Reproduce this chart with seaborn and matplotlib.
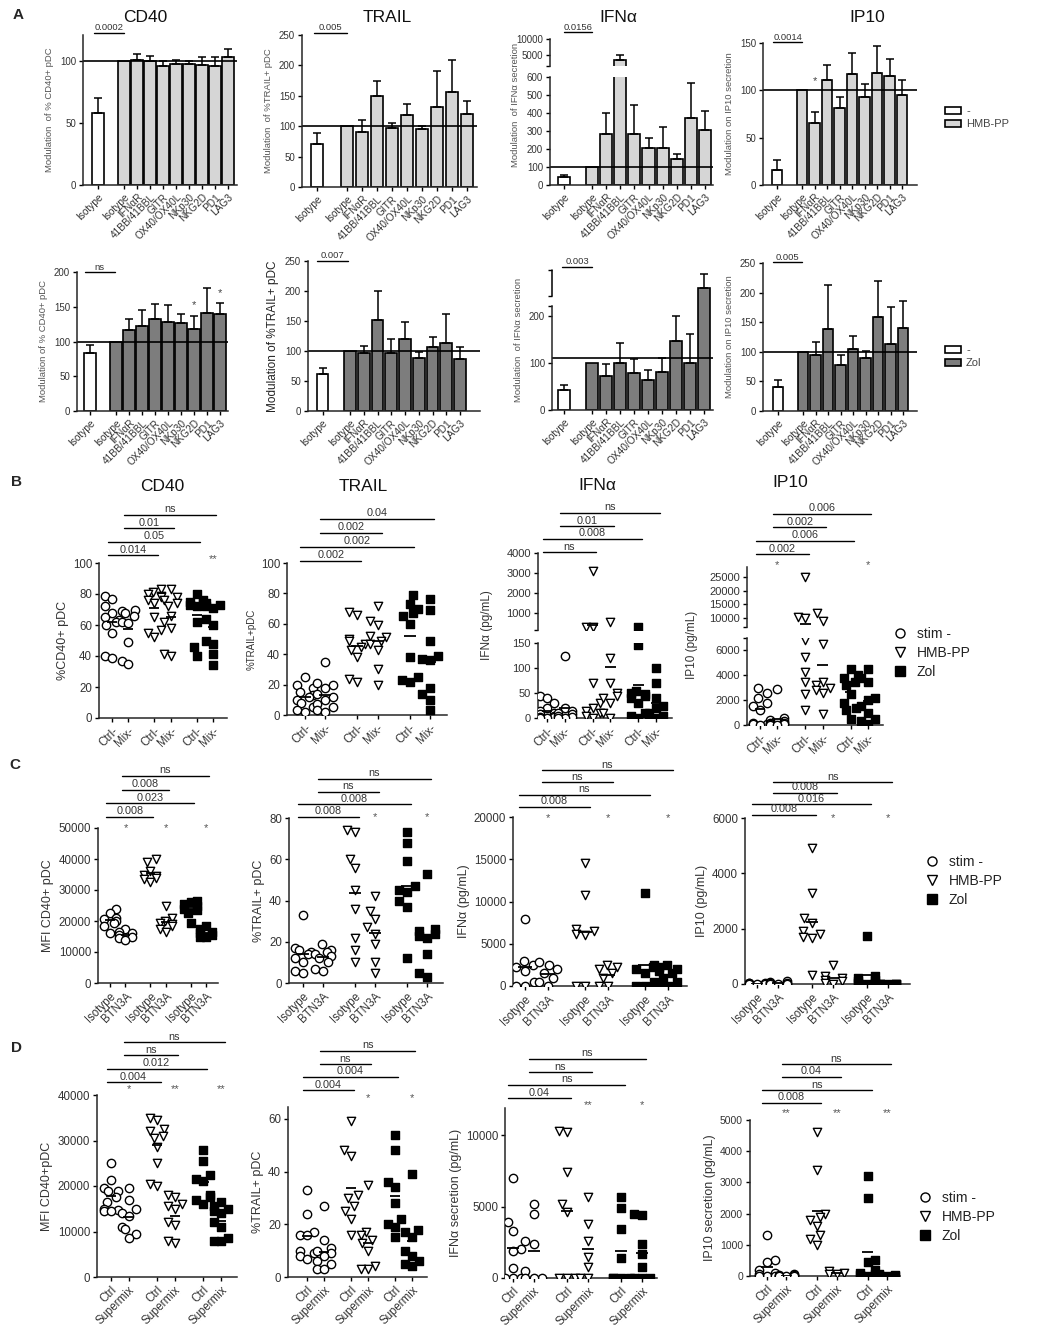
import warnings
import numpy as np
import pandas as pd
import matplotlib
matplotlib.use('Agg')
import matplotlib.pyplot as plt
import matplotlib.transforms as mtransforms
from matplotlib.lines import Line2D
from matplotlib.patches import Patch
import seaborn as sns

warnings.filterwarnings('ignore')

# ---------------- data ----------------
# A: blocking antibodies, modulation (%) relative to isotype, mean + SEM
bar_labels = ['Isotype', 'Isotype', 'IFNαR', '41BB/41BBL', 'GITR', 'OX40/OX40L',
              'NKp30', 'NKG2D', 'PD1', 'LAG3']
bar_pos = [0, 2, 3, 4, 5, 6, 7, 8, 9, 10]

hmb_cd40 = [58, 100, 101, 100, 96, 98, 98, 97, 96, 103]
hmb_cd40_err = [12, 0, 5, 4, 4, 3, 2, 6, 7, 7]
hmb_trail = [71, 100, 90, 150, 97, 118, 95, 132, 156, 120]
hmb_trail_err = [17, 0, 21, 25, 9, 19, 5, 58, 53, 21]
hmb_ifna = [45, 100, 285, 3450, 285, 205, 205, 145, 372, 305]
hmb_ifna_err = [8, 0, 115, 1550, 160, 55, 115, 27, 194, 106]
hmb_ip10 = [16, 100, 65, 111, 81, 117, 93, 118, 115, 95]
hmb_ip10_err = [10, 0, 12, 16, 12, 22, 14, 29, 18, 16]

zol_cd40 = [83, 100, 116, 122, 133, 128, 126, 118, 141, 139]
zol_cd40_err = [12, 0, 17, 24, 21, 24, 13, 19, 36, 17]
zol_trail = [62, 100, 96, 152, 96, 120, 88, 107, 113, 86]
zol_trail_err = [10, 0, 12, 48, 24, 28, 11, 16, 49, 20]
zol_ifna = [42, 100, 72, 100, 78, 63, 80, 146, 100, 260]
zol_ifna_err = [12, 0, 25, 43, 30, 22, 30, 54, 62, 30]
zol_ip10 = [40, 100, 95, 138, 77, 104, 90, 158, 113, 140]
zol_ip10_err = [13, 0, 22, 74, 18, 22, 12, 62, 62, 45]

# B-D: individual donors, [condition 1, condition 2] for stim -, HMB-PP, Zol
scat_pos = [0, 1, 2.6, 3.6, 5.2, 6.2]
stim_labels = ['stim -', 'HMB-PP', 'Zol']

b_cd40_nostim = [[79, 77, 72, 68, 65, 63, 62, 60, 55, 40, 39], [70, 69, 68, 66, 62, 61, 49, 37, 35]]
b_cd40_hmb = [[83, 81, 80, 79, 78, 76, 74, 65, 57, 55, 52], [83, 78, 76, 74, 72, 66, 62, 58, 41, 40]]
b_cd40_zol = [[80, 76, 75, 74, 73, 72, 62, 46, 40], [74, 73, 72, 71, 64, 60, 50, 48, 41, 34]]

b_trail_nostim = [[25, 20, 18, 15, 13, 12, 10, 8, 5, 3, 2], [35, 21, 20, 18, 14, 12, 10, 7, 5, 3, 2]]
b_trail_hmb = [[68, 66, 50, 49, 47, 45, 43, 38, 24, 22], [72, 62, 59, 52, 51, 49, 47, 43, 30, 20]]
b_trail_zol = [[79, 73, 70, 67, 65, 60, 38, 25, 23, 22], [76, 69, 49, 39, 37, 36, 18, 14, 10, 3]]

b_ifna_nostim = [[45, 40, 30, 20, 15, 10, 8, 5, 3, 2, 0, 0], [125, 20, 15, 10, 8, 5, 3, 0, 0]]
b_ifna_hmb = [[3100, 310, 290, 70, 30, 20, 15, 10, 5, 0], [550, 120, 70, 50, 45, 40, 30, 10, 0]]
b_ifna_zol = [[300, 146, 55, 50, 48, 45, 40, 30, 10, 5, 0], [100, 70, 40, 25, 20, 10, 5, 0, 0]]

b_ip10_nostim = [[3000, 2600, 2200, 1800, 1500, 1200, 200, 100, 50, 0], [2900, 600, 400, 300, 200, 150, 100, 50, 0, 0]]
b_ip10_hmb = [[25000, 10500, 10000, 6800, 5500, 4300, 3500, 2500, 1200], [12000, 9000, 6500, 3500, 3200, 3000, 2800, 2600, 900]]
b_ip10_zol = [[4500, 4000, 3800, 3500, 3200, 2500, 1800, 1400, 1200, 500], [4500, 3800, 3500, 2200, 2000, 1500, 1000, 500, 300, 100]]

c_cd40_nostim = [[24000, 22500, 21000, 20500, 20000, 19500, 18500, 16000], [17500, 16500, 16000, 15500, 15000, 14500, 14000]]
c_cd40_hmb = [[40000, 39000, 36000, 35000, 34500, 34000, 33500, 32500], [25000, 21000, 20000, 19500, 19000, 18500, 17500, 16500]]
c_cd40_zol = [[26500, 26000, 25500, 25000, 24000, 23500, 22500, 19500], [18500, 17500, 16500, 16000, 15500, 15000, 15000]]

c_trail_nostim = [[33, 17, 16, 15, 14, 12, 10, 6, 5], [19, 16, 15, 14, 13, 12, 10, 7, 6]]
c_trail_hmb = [[74, 73, 60, 56, 45, 36, 22, 16, 10], [42, 35, 31, 27, 24, 19, 10, 5]]
c_trail_zol = [[73, 68, 59, 47, 45, 44, 40, 37, 12], [53, 26, 25, 24, 23, 22, 14, 5, 3]]

c_ifna_nostim = [[7900, 3000, 2500, 2200, 1800, 500, 0, 0], [2800, 2500, 2000, 1500, 1000, 500, 0]]
c_ifna_hmb = [[14500, 10800, 6800, 6500, 6200, 6000, 0, 0], [2500, 2200, 2000, 1500, 1000, 0, 0]]
c_ifna_zol = [[11000, 2500, 2200, 2000, 1500, 500, 0, 0], [2500, 2200, 2000, 1800, 1500, 1000, 500, 0, 0]]

c_ip10_nostim = [[50, 30, 20, 10, 0, 0, 0, 0], [100, 60, 40, 20, 0, 0, 0]]
c_ip10_hmb = [[4900, 3300, 2400, 2200, 1900, 1800, 1700, 1650, 330], [700, 300, 200, 150, 100, 50, 0]]
c_ip10_zol = [[1750, 300, 200, 150, 100, 50, 30, 0], [0, 0, 0, 0, 0, 0, 0]]

d_cd40_nostim = [[25000, 21300, 19500, 19000, 18800, 17500, 16500, 15000, 14800, 14500, 14500], [19500, 17000, 15000, 14000, 13500, 11000, 10500, 9500, 8500]]
d_cd40_hmb = [[35000, 34500, 32500, 32000, 31000, 30500, 28500, 25000, 20500, 20000], [18000, 17500, 16000, 15500, 15000, 12000, 11500, 8000, 7500]]
d_cd40_zol = [[28000, 25500, 22500, 21500, 21000, 18000, 17500, 17000, 16000], [16500, 15500, 15000, 14500, 14000, 12000, 11000, 8500, 8000, 8000]]

d_trail_nostim = [[33, 24, 17, 16, 16, 10, 9, 8, 7], [27, 14, 11, 10, 9, 8, 6, 5, 3, 3]]
d_trail_hmb = [[59, 48, 46, 31, 30, 27, 25, 22, 16], [35, 17, 16, 14, 13, 10, 4, 3, 3]]
d_trail_zol = [[54, 48, 36, 34, 28, 22, 20, 19, 15], [39, 18, 17, 15, 10, 8, 6, 5, 4]]

d_ifna_nostim = [[7000, 3900, 3300, 2000, 1900, 700, 0, 0, 0], [5200, 4500, 2600, 2400, 500, 0, 0, 0]]
d_ifna_hmb = [[10300, 10200, 7400, 5200, 4600, 0, 0, 0], [5700, 3800, 2600, 1500, 800, 0, 0]]
d_ifna_zol = [[5700, 4900, 3400, 1400, 0, 0, 0, 0], [4500, 4400, 2400, 1700, 800, 0, 0, 0]]

d_ip10_nostim = [[1300, 500, 450, 200, 100, 50, 0, 0, 0], [50, 30, 20, 10, 0, 0, 0]]
d_ip10_hmb = [[4600, 3400, 2000, 1900, 1800, 1600, 1300, 1200, 1000], [150, 100, 80, 50]]
d_ip10_zol = [[3200, 2500, 500, 450, 200, 100, 50, 30, 0], [50, 30, 20, 10, 0, 0]]

# ---------------- style ----------------
sns.set_theme(style='ticks')
plt.rcParams['font.family'] = ['Liberation Sans', 'DejaVu Sans']
plt.rcParams['axes.linewidth'] = 1.1
plt.rcParams['xtick.major.width'] = 1.0
plt.rcParams['ytick.major.width'] = 1.0

W, H = 1038, 1339
fig = plt.figure(figsize=(W / 100, H / 100), dpi=100)

TXT = '#333333'
stim_styles = [('o', 'white'), ('v', 'white'), ('s', 'black')]


def make_ax(left, right, top, bottom, fs=7):
    ax = fig.add_axes([left / W, 1 - bottom / H, (right - left) / W, (bottom - top) / H])
    ax.set_facecolor('white')
    sns.despine(ax=ax)
    ax.tick_params(direction='out', length=3, color='black', labelcolor=TXT, pad=2, labelsize=fs)
    return ax


def figy(ypx):
    return 1 - ypx / H


def bar_xlim(S, iso2, lag3, R):
    u = (lag3 - iso2) / 8
    p0 = iso2 - 2 * u
    return (S - p0) / u, (R - p0) / u


def scat_xlim(S, c0, c5, R):
    u = (c5 - c0) / 6.2
    return (S - c0) / u, (R - c0) / u


def draw_bars(ax, vals, errs, fill):
    df = pd.DataFrame({'pos': bar_pos, 'val': vals, 'grp': ['iso'] + ['stim'] * 9})
    sns.barplot(data=df, x='pos', y='val', hue='grp', palette={'iso': 'white', 'stim': fill},
                native_scale=True, orient='x', dodge=False, width=0.85, errorbar=None,
                edgecolor='black', linewidth=1.2, legend=False, ax=ax)
    e = np.array(errs, dtype=float)
    keep = e > 0
    ax.errorbar(np.array(bar_pos)[keep], np.array(vals)[keep],
                yerr=[np.zeros(keep.sum()), e[keep]], fmt='none', ecolor='black',
                elinewidth=1.1, capsize=3, capthick=1.1, zorder=3)
    ax.set_xlabel('')
    ax.set_ylabel('')


def bar_xticks(ax, fs=7.3):
    ax.set_xticks(bar_pos)
    ax.set_xticklabels(bar_labels, rotation=45, ha='right', rotation_mode='anchor', fontsize=fs)


def sig_line(ax, x1, x2, ypx, label, fs=7):
    tr = mtransforms.blended_transform_factory(ax.transData, fig.transFigure)
    ax.plot([x1, x2], [figy(ypx), figy(ypx)], color='black', lw=1.0, transform=tr, clip_on=False)
    ax.text((x1 + x2) / 2, figy(ypx - 0.5), label, transform=tr, ha='center', va='bottom',
            fontsize=fs, color=TXT)


def sig_block(ax, labels, y0, step=13.5, fs=7.8):
    pairs = [(0, 2), (0, 4), (1, 3), (1, 5)]
    for i, (lab, (a, b)) in enumerate(zip(labels, pairs)):
        sig_line(ax, scat_pos[a] - 0.25, scat_pos[b] + 0.2, y0 - i * step, lab, fs)


def star_row(ax, stars, ypx, fs=8):
    tr = mtransforms.blended_transform_factory(ax.transData, fig.transFigure)
    for p, s in zip(scat_pos, stars):
        if s:
            ax.text(p, figy(ypx), s, transform=tr, ha='center', va='center', fontsize=fs,
                    color='#555555')


def draw_groups(parts, groups, size=6):
    # parts: list of (ax, lo, hi) value ranges shown on each axis
    for k, pair in enumerate(groups):
        mk, face = stim_styles[k]
        pos = np.repeat(scat_pos[2 * k:2 * k + 2], [len(pair[0]), len(pair[1])])
        df = pd.DataFrame({'pos': pos, 'val': np.concatenate(pair).astype(float)})
        for ax, lo, hi in parts:
            sub = df[(df.val > lo) & (df.val <= hi)]
            if len(sub):
                sns.swarmplot(data=sub, x='pos', y='val', native_scale=True, orient='x',
                              marker=mk, color=face, edgecolor='black', linewidth=1.0,
                              size=size, ax=ax)
        for j, v in enumerate(pair):
            m = np.mean(v)
            for ax, lo, hi in parts:
                if lo < m <= hi:
                    p = scat_pos[2 * k + j]
                    ax.hlines(m, p - 0.3, p + 0.3, color='black', lw=1.3, zorder=6)
    for ax, lo, hi in parts:
        ax.set_xlabel('')
        ax.set_ylabel('')


def scat_xticks(ax, labels, fs=8.3):
    ax.set_xticks(scat_pos)
    ax.set_xticklabels(labels, rotation=45, ha='right', rotation_mode='anchor', fontsize=fs)


def scatter_panel(box, xl, ylim, yticks, groups, ylabel, xlabels, sigs, sig_y, stars, star_y,
                  ylabel_fs=9, tick_fs=8.3, step=13.5):
    ax = make_ax(*box, fs=tick_fs)
    draw_groups([(ax, -1, 1e9)], groups)
    ax.set_xlim(*xl)
    ax.set_ylim(*ylim)
    ax.set_yticks(yticks)
    ax.set_yticklabels([str(t) for t in yticks])
    scat_xticks(ax, xlabels)
    ax.set_ylabel(ylabel, fontsize=ylabel_fs, color=TXT, labelpad=3)
    sig_block(ax, sigs, sig_y, step)
    star_row(ax, stars, star_y)
    return ax


def scatter_legend(x, y):
    handles = [Line2D([], [], marker=m, ls='none', mfc=f, mec='black', mew=1.0, ms=6.5)
               for m, f in stim_styles]
    fig.legend(handles, stim_labels, loc='upper left', bbox_to_anchor=(x / W, figy(y)),
               frameon=False, fontsize=10, handletextpad=0.7, labelspacing=0.35,
               borderaxespad=0, borderpad=0, handlelength=1.0, labelcolor='#222222')


def bar_legend(x, y, fill, label):
    handles = [Patch(facecolor='white', edgecolor='black', lw=1.2),
               Patch(facecolor=fill, edgecolor='black', lw=1.2)]
    fig.legend(handles, ['-', label], loc='upper left', bbox_to_anchor=(x / W, figy(y)),
               frameon=False, fontsize=8, handletextpad=0.5, labelspacing=0.3,
               borderaxespad=0, borderpad=0, handlelength=1.4, handleheight=0.6,
               labelcolor='#444444')


LIGHT = '#d6d6d6'
DARK = '#7d7d7d'

# ---------------- panel letters and titles ----------------
for letter, x, y in [('A', 18, 15), ('B', 17, 482), ('C', 15, 765), ('D', 17, 1048)]:
    fig.text(x / W, figy(y), letter, fontsize=11, fontweight='bold', ha='center', va='center')
for name, x in [('CD40', 145), ('TRAIL', 387), ('IFNα', 618), ('IP10', 867)]:
    fig.text(x / W, figy(17), name, fontsize=12.5, ha='center', va='center', color='#111111')
for name, x, y in [('CD40', 162, 487), ('TRAIL', 363, 487), ('IFNα', 597, 485), ('IP10', 790, 482)]:
    fig.text(x / W, figy(y), name, fontsize=12.5, ha='center', va='center', color='#111111')

# ---------------- A, HMB-PP row ----------------
ax = make_ax(83, 237, 35, 185, fs=7)
draw_bars(ax, hmb_cd40, hmb_cd40_err, LIGHT)
ax.set_xlim(*bar_xlim(83, 124, 228, 237))
ax.set_ylim(0, 121)
ax.set_yticks([0, 50, 100])
ax.axhline(100, color='black', lw=1.2)
bar_xticks(ax)
ax.set_ylabel('Modulation  of % CD40+ pDC', fontsize=6.8, color='#555555')
sig_line(ax, -0.3, 2.0, 33, '0.0002', 6.8)

ax = make_ax(302, 477, 35, 187, fs=7)
draw_bars(ax, hmb_trail, hmb_trail_err, LIGHT)
ax.set_xlim(*bar_xlim(302, 347, 467, 477))
ax.set_ylim(0, 250)
ax.set_yticks([0, 50, 100, 150, 200, 250])
ax.axhline(100, color='black', lw=1.2)
bar_xticks(ax)
ax.set_ylabel('Modulation  of %TRAIL+ pDC', fontsize=6.8, color='#555555')
sig_line(ax, -0.2, 2.0, 33, '0.005', 6.8)

ax_hi = make_ax(550, 713, 39, 66, fs=7)
ax = make_ax(550, 713, 77, 185, fs=7)
for a in (ax_hi, ax):
    draw_bars(a, hmb_ifna, hmb_ifna_err, LIGHT)
    a.set_xlim(*bar_xlim(550, 592, 705, 713))
ax_hi.set_ylim(1560, 10000)
ax_hi.set_yticks([1560, 5000, 10000])
ax_hi.set_yticklabels(['', '5000', '10000'])
ax_hi.spines['bottom'].set_visible(False)
ax_hi.tick_params(axis='x', bottom=False, labelbottom=False)
ax.set_ylim(0, 600)
ax.set_yticks([0, 100, 200, 300, 400, 500, 600])
ax.axhline(100, color='black', lw=1.2)
bar_xticks(ax)
fig.text(515 / W, figy(105), 'Modulation  of IFNα secretion', rotation=90, fontsize=6.8,
         color='#555555', ha='center', va='center')
sig_line(ax_hi, 0.0, 2.0, 32, '0.0156', 6.8)

ax = make_ax(763, 917, 43, 185, fs=7)
draw_bars(ax, hmb_ip10, hmb_ip10_err, LIGHT)
ax.set_xlim(*bar_xlim(763, 802, 902, 917))
ax.set_ylim(0, 150)
ax.set_yticks([0, 50, 100, 150])
ax.axhline(100, color='black', lw=1.2)
bar_xticks(ax)
ax.set_ylabel('Modulation on IP10 secretion', fontsize=6.8, color='#555555')
ax.text(3, 110, '*', ha='center', va='center', fontsize=8, color='#444444')
sig_line(ax, -0.3, 2.0, 42, '0.0014', 6.8)
bar_legend(945, 106, LIGHT, 'HMB-PP')

# ---------------- A, Zol row ----------------
ax = make_ax(77, 228, 272, 411, fs=7)
draw_bars(ax, zol_cd40, zol_cd40_err, DARK)
ax.set_xlim(*bar_xlim(77, 116, 220, 228))
ax.set_ylim(0, 200)
ax.set_yticks([0, 50, 100, 150, 200])
ax.axhline(100, color='black', lw=1.2)
bar_xticks(ax)
ax.set_ylabel('Modulation of % CD40+ pDC', fontsize=6.8, color='#555555')
ax.text(8, 152, '*', ha='center', va='center', fontsize=8, color='#444444')
ax.text(10, 170, '*', ha='center', va='center', fontsize=8, color='#444444')
sig_line(ax, -0.4, 1.9, 272, 'ns', 6.8)

ax = make_ax(308, 480, 261, 411, fs=7)
draw_bars(ax, zol_trail, zol_trail_err, DARK)
ax.set_xlim(*bar_xlim(308, 350, 460, 480))
ax.set_ylim(0, 250)
ax.set_yticks([0, 50, 100, 150, 200, 250])
ax.axhline(100, color='black', lw=1.2)
bar_xticks(ax)
ax.set_ylabel('Modulation of %TRAIL+ pDC', fontsize=8.5, color='#222222')
sig_line(ax, -0.4, 1.85, 261, '0.007', 6.8)

ax = make_ax(552, 713, 270, 410, fs=7)
draw_bars(ax, zol_ifna, zol_ifna_err, DARK)
ax.set_xlim(*bar_xlim(552, 592, 704, 713))
ax.set_ylim(0, 298)
ax.set_yticks([0, 100, 200, 222, 243, 298])
ax.set_yticklabels(['0', '100', '200', '', '', ''])
ax.spines['left'].set_bounds(0, 222)
xl0 = ax.get_xlim()[0]
ax.plot([xl0, xl0], [243, 298], color='black', lw=1.1, clip_on=False)
ax.axhline(110, color='black', lw=1.2)
bar_xticks(ax)
ax.set_ylabel('Modulation  of IFNα secretion', fontsize=6.8, color='#555555')
sig_line(ax, -0.15, 2.0, 267, '0.003', 6.8)

ax = make_ax(763, 917, 263, 411, fs=7)
draw_bars(ax, zol_ip10, zol_ip10_err, DARK)
ax.set_xlim(*bar_xlim(763, 803, 903, 917))
ax.set_ylim(0, 250)
ax.set_yticks([0, 50, 100, 150, 200, 250])
ax.axhline(100, color='black', lw=1.2)
bar_xticks(ax)
ax.set_ylabel('Modulation on IP10 secretion', fontsize=6.8, color='#555555')
sig_line(ax, -0.4, 1.9, 262, '0.005', 6.8)
bar_legend(945, 345, DARK, 'Zol')

# ---------------- B ----------------
lab_b = ['Ctrl-', 'Mix-'] * 3
lab_c = ['Isotype', 'BTN3A'] * 3
lab_d = ['Ctrl', 'Supermix'] * 3

scatter_panel((99, 227, 563, 718), scat_xlim(99, 112, 213, 227), (0, 100), [0, 20, 40, 60, 80, 100],
              [b_cd40_nostim, b_cd40_hmb, b_cd40_zol], '%CD40+ pDC', lab_b,
              ['0.014', '0.05', '0.01', 'ns'], 555, ['', '', '', '', '', '**'], 559)
scatter_panel((287, 447, 563, 715), scat_xlim(287, 305, 430, 447), (0, 100), [0, 20, 40, 60, 80, 100],
              [b_trail_nostim, b_trail_hmb, b_trail_zol], '%TRAIL+pDC', lab_b,
              ['0.002', '0.002', '0.002', '0.04'], 561, [''] * 6, 560, ylabel_fs=7, step=14)

# IFNa with broken axis
xl = scat_xlim(538, 547, 656, 672)
ax_hi = make_ax(538, 672, 553, 630, fs=8)
ax = make_ax(538, 672, 643, 718, fs=8)
draw_groups([(ax, -1, 150), (ax_hi, 150, 1e9)], [b_ifna_nostim, b_ifna_hmb, b_ifna_zol])
for a in (ax_hi, ax):
    a.set_xlim(*xl)
ax_hi.set_ylim(150, 4000)
ax_hi.set_yticks([150, 1000, 2000, 3000, 4000])
ax_hi.set_yticklabels(['', '1000', '2000', '3000', '4000'])
ax_hi.spines['bottom'].set_visible(False)
ax_hi.tick_params(axis='x', bottom=False, labelbottom=False)
ax.set_ylim(0, 150)
ax.set_yticks([0, 50, 100, 150])
ax.set_yticklabels(['0', '50', '100', '150'])
scat_xticks(ax, lab_b)
fig.text(487 / W, figy(625), 'IFNα (pg/mL)', rotation=90, fontsize=8.5, color=TXT,
         ha='center', va='center')
sig_block(ax_hi, ['ns', '0.008', '0.01', 'ns'], 552, 13)

# IP10 with broken axis
xl = scat_xlim(747, 760, 868, 883)
ax_hi = make_ax(747, 883, 567, 627, fs=8)
ax = make_ax(747, 883, 638, 725, fs=8)
draw_groups([(ax, -1, 7000), (ax_hi, 7000, 1e9)], [b_ip10_nostim, b_ip10_hmb, b_ip10_zol])
for a in (ax_hi, ax):
    a.set_xlim(*xl)
ax_hi.set_ylim(6700, 28700)
ax_hi.set_yticks([6700, 10000, 15000, 20000, 25000])
ax_hi.set_yticklabels(['', '10000', '15000', '20000', '25000'])
ax_hi.spines['bottom'].set_visible(False)
ax_hi.tick_params(axis='x', bottom=False, labelbottom=False)
ax.set_ylim(0, 7000)
ax.set_yticks([0, 2000, 4000, 6000, 7000])
ax.set_yticklabels(['0', '2000', '4000', '6000', ''])
scat_xticks(ax, lab_b)
fig.text(692 / W, figy(645), 'IP10 (pg/mL)', rotation=90, fontsize=8.5, color=TXT,
         ha='center', va='center')
sig_block(ax_hi, ['0.002', '0.006', '0.002', '0.006'], 554, 13.5)
star_row(ax_hi, ['', '*', '', '', '', '*'], 565)
scatter_legend(893, 627)

# ---------------- C ----------------
scatter_panel((98, 218, 828, 983), scat_xlim(98, 110, 206, 218), (0, 50000),
              [0, 10000, 20000, 30000, 40000, 50000],
              [c_cd40_nostim, c_cd40_hmb, c_cd40_zol], 'MFI CD40+ pDC', lab_c,
              ['0.008', '0.023', '0.008', 'ns'], 817, ['', '*', '', '*', '', '*'], 828, step=13.7)
scatter_panel((289, 443, 818, 983), scat_xlim(289, 303, 427, 443), (0, 80), [0, 20, 40, 60, 80],
              [c_trail_nostim, c_trail_hmb, c_trail_zol], '%TRAIL+ pDC', lab_c,
              ['0.008', '0.008', 'ns', 'ns'], 817, ['', '', '', '*', '', '*'], 817, step=12.7)
scatter_panel((513, 687, 817, 986), scat_xlim(513, 525, 668, 687), (0, 20000),
              [0, 5000, 10000, 15000, 20000],
              [c_ifna_nostim, c_ifna_hmb, c_ifna_zol], 'IFNα (pg/mL)', lab_c,
              ['0.008', 'ns', 'ns', 'ns'], 807, ['', '*', '', '*', '', '*'], 818, step=12.3)
scatter_panel((745, 910, 818, 984), scat_xlim(745, 757, 888, 910), (0, 6000), [0, 2000, 4000, 6000],
              [c_ip10_nostim, c_ip10_hmb, c_ip10_zol], 'IP10 (pg/mL)', lab_c,
              ['0.008', '0.016', '0.008', 'ns'], 815, ['', '', '', '*', '', '*'], 818, step=11)
scatter_legend(925, 855)

# ---------------- D ----------------
scatter_panel((97, 237, 1095, 1277), scat_xlim(97, 111, 221, 237), (0, 40000),
              [0, 10000, 20000, 30000, 40000],
              [d_cd40_nostim, d_cd40_hmb, d_cd40_zol], 'MFI CD40+pDC', lab_d,
              ['0.004', '0.012', 'ns', 'ns'], 1082, ['', '*', '', '**', '', '**'], 1089, step=13.3)
scatter_panel((288, 427, 1107, 1277), scat_xlim(288, 307, 412, 427), (0, 64.5), [0, 20, 40, 60],
              [d_trail_nostim, d_trail_hmb, d_trail_zol], '%TRAIL+ pDC', lab_d,
              ['0.004', '0.004', 'ns', 'ns'], 1090, ['', '', '', '*', '', '*'], 1098, step=13)
scatter_panel((505, 657, 1108, 1278), scat_xlim(505, 513, 642, 657), (0, 11900), [0, 5000, 10000],
              [d_ifna_nostim, d_ifna_hmb, d_ifna_zol], 'IFNα secretion (pg/mL)', lab_d,
              ['0.04', 'ns', 'ns', 'ns'], 1098, ['', '', '', '**', '', '*'], 1105, step=13)
scatter_panel((750, 900, 1120, 1276), scat_xlim(750, 767, 887, 900), (0, 5000),
              [0, 1000, 2000, 3000, 4000, 5000],
              [d_ip10_nostim, d_ip10_hmb, d_ip10_zol], 'IP10 secretion (pg/mL)', lab_d,
              ['0.008', 'ns', '0.04', 'ns'], 1103, ['', '**', '', '**', '', '**'], 1113,
              tick_fs=7.5, step=13)
scatter_legend(918, 1191)

fig.savefig('out.png', dpi=100, facecolor='white')
